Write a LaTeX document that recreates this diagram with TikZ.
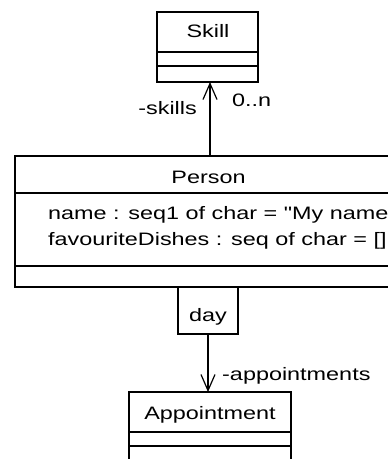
\documentclass[tikz,border=0pt]{standalone}
\usepackage{fontspec}
\newfontfamily\umlfont{Liberation Sans}[FakeStretch=1.3]
\usetikzlibrary{arrows.meta}

\begin{document}
\begin{tikzpicture}[x=1pt,y=-1pt,
  txt/.style={font=\umlfont\fontsize{18}{21}\selectfont, inner sep=0pt},
  classbox/.style={draw, line width=1.2pt, inner sep=0pt, outer sep=0pt, anchor=north west},
  qualbox/.style={draw, line width=1.2pt, inner sep=0pt, outer sep=0pt, anchor=north},
  sep/.style={line width=1.2pt},
  assoc/.style={line width=1.2pt, -{Straight Barb[length=16pt,width=14pt,line width=1.2pt]}}]
\useasboundingbox (0,0) rectangle (388,459);
\clip (0,0) rectangle (388,459);

% class Skill
\node[classbox, minimum width=101pt, minimum height=70pt] (skill) at (157,12) {};
\draw[sep] ([yshift=-40pt]skill.north west) -- ([yshift=-40pt]skill.north east);
\draw[sep] ([yshift=-54pt]skill.north west) -- ([yshift=-54pt]skill.north east);
\node[txt, anchor=base] (skilltitle) at (208,37) {Skill};

% class Person (runs past the right edge)
\node[classbox, minimum width=390pt, minimum height=131pt] (person) at (15,156) {};
\draw[sep] ([yshift=-37pt]person.north west) -- ([yshift=-37pt]person.north east);
\draw[sep] ([yshift=-110pt]person.north west) -- ([yshift=-110pt]person.north east);
\node[txt, anchor=base] (persontitle) at (208.5,183) {Person};
\node[txt, anchor=base west] (attr1) at (48,219) {name : seq1 of char = "My name};
\node[txt, anchor=base west] (attr2) at (48,245) {favouriteDishes : seq of char = []};

% qualifier
\node[qualbox, minimum width=60pt, minimum height=47pt] (day) at (208,287) {};
\node[txt, anchor=base] (daytext) at (208,321) {day};

% class Appointment (runs past the bottom edge)
\node[classbox, minimum width=162pt, minimum height=90pt] (appt) at (129,392) {};
\draw[sep] ([yshift=-40pt]appt.north west) -- ([yshift=-40pt]appt.north east);
\draw[sep] ([yshift=-54pt]appt.north west) -- ([yshift=-54pt]appt.north east);
\node[txt, anchor=base] (appttitle) at (210,419) {Appointment};

% associations
\draw[assoc] (person.north) -- (person.north |- skill.south);
\node[txt, anchor=base east] (skillsrole) at (197,114) {-skills};
\node[txt, anchor=base west] (skillsmult) at (232,106) {0..n};

\draw[assoc] (day.south) -- (day.south |- appt.north);
\node[txt, anchor=base west] (apptrole) at (222,380) {-appointments};
\end{tikzpicture}
\end{document}
